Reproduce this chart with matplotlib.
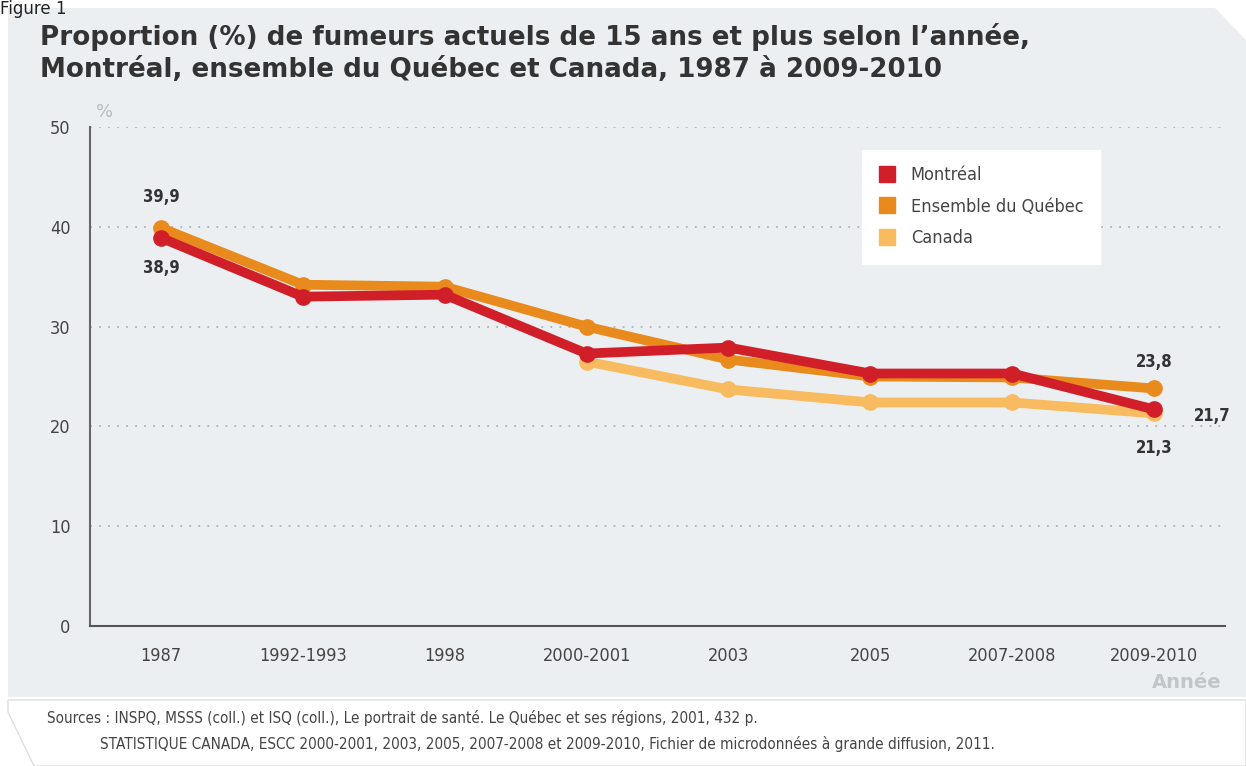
import numpy as np
import matplotlib.pyplot as plt
from matplotlib.patches import Polygon
from matplotlib.lines import Line2D

periodes = ["1987", "1992-1993", "1998", "2000-2001", "2003", "2005",
            "2007-2008", "2009-2010"]
montreal = [38.9, 33.0, 33.2, 27.3, 27.9, 25.3, 25.3, 21.7]
quebec = [39.9, 34.2, 34.0, 30.0, 26.7, 25.0, 24.9, 23.8]
canada = [None, None, None, 26.5, 23.7, 22.4, 22.4, 21.3]

c_mtl = "#d11f2a"
c_qc = "#e98a1c"
c_can = "#f9bb5f"
narrow = ["DejaVu Sans"]
cond = dict(family=narrow, stretch="condensed")


def main():
    fig = plt.figure(figsize=(12.46, 7.66), dpi=100)
    fig.patch.set_facecolor("white")

    # background panels (figure pixel coords converted to fractions)
    W, H = 1246, 766

    def fp(pts):
        return [(x / W, 1 - y / H) for x, y in pts]

    panel = Polygon(fp([(8, 8), (1215, 8), (1246, 40), (1246, 697), (8, 697)]),
                    closed=True, transform=fig.transFigure, facecolor="#eceff1",
                    edgecolor="none", zorder=0)
    fig.patches.append(panel)
    src_box = Polygon(fp([(8, 700), (1246, 700), (1246, 766), (34, 766), (8, 712)]),
                      closed=True, transform=fig.transFigure, facecolor="white",
                      edgecolor="#dcdfe2", lw=1, zorder=0)
    fig.patches.append(src_box)

    fig.text(0.0, 1.0, "Figure 1", fontsize=12, color="#222222",
             va="top", ha="left")
    fig.text(40 / W, 1 - 53 / H,
             "Proportion (%) de fumeurs actuels de 15 ans et plus selon l\u2019ann\u00e9e,\n"
             "Montr\u00e9al, ensemble du Qu\u00e9bec et Canada, 1987 \u00e0 2009-2010",
             fontsize=18.8, fontweight="bold", color="#333333", va="center",
             ha="left", linespacing=1.3)

    ax = fig.add_axes([90 / W, 1 - 626 / H, (1225 - 90) / W, (626 - 127) / H])
    ax.set_zorder(2)
    ax.set_facecolor("none")
    x = np.arange(len(periodes))

    def plot_series(vals, color, z):
        xs = [xi for xi, v in zip(x, vals) if v is not None]
        ys = [v for v in vals if v is not None]
        ax.plot(xs, ys, color=color, lw=7, marker="o", ms=11,
                solid_joinstyle="round", solid_capstyle="round", zorder=z)

    plot_series(canada, c_can, 3)
    plot_series(quebec, c_qc, 4)
    plot_series(montreal, c_mtl, 5)

    ax.set_xlim(-0.5, 7.5)
    ax.set_ylim(0, 50)
    ax.set_xticks(x)
    ax.set_xticklabels(periodes, fontsize=13, color="#444444", **cond)
    ax.set_yticks([0, 10, 20, 30, 40, 50])
    ax.set_yticklabels(["0", "10", "20", "30", "40", "50"], fontsize=13,
                       color="#444444", **cond)
    ax.tick_params(axis="x", length=0, pad=15)
    ax.tick_params(axis="y", length=0, pad=14)
    for yv in [10, 20, 30, 40, 50]:
        ax.axhline(yv, color="#aeb2b6", lw=1.3, ls=(0, (1, 4)), zorder=1)
    for s in ["top", "right"]:
        ax.spines[s].set_visible(False)
    ax.spines["left"].set_color("#666666")
    ax.spines["bottom"].set_color("#555555")
    ax.spines["left"].set_linewidth(1.5)
    ax.spines["bottom"].set_linewidth(1.5)

    ax.text(0.005, 1.03, "%", transform=ax.transAxes, fontsize=13,
            color="#b8bcc0", ha="left", va="center")
    fig.text(1222 / W, 1 - 683 / H, "Ann\u00e9e", fontsize=14, fontweight="bold",
             color="#c3c6c9", ha="right", va="center", zorder=5)

    lab = dict(fontsize=12, fontweight="bold", color="#333333", zorder=6, **cond)
    ax.annotate("39,9", (0, quebec[0]), xytext=(0, 22), textcoords="offset points",
                ha="center", va="center", **lab)
    ax.annotate("38,9", (0, montreal[0]), xytext=(0, -22), textcoords="offset points",
                ha="center", va="center", **lab)
    ax.annotate("23,8", (7, quebec[7]), xytext=(0, 19), textcoords="offset points",
                ha="center", va="center", **lab)
    ax.annotate("21,7", (7, montreal[7]), xytext=(42, -5), textcoords="offset points",
                ha="center", va="center", **lab)
    ax.annotate("21,3", (7, canada[7]), xytext=(0, -25), textcoords="offset points",
                ha="center", va="center", **lab)

    handles = [Line2D([], [], color=c, marker="s", ms=11, ls="none")
               for c in (c_mtl, c_qc, c_can)]
    leg = ax.legend(handles, ["Montr\u00e9al", "Ensemble du Qu\u00e9bec", "Canada"],
                    loc="upper left", bbox_to_anchor=((862 - 90) / (1225 - 90),
                                                      1 - (150 - 127) / (626 - 127)),
                    frameon=True, fancybox=False, framealpha=1,
                    prop={"family": narrow, "stretch": "condensed", "size": 13},
                    handlelength=1.0, handletextpad=0.8, borderpad=0.9,
                    labelspacing=0.75, borderaxespad=0)
    leg.get_frame().set_facecolor("white")
    leg.get_frame().set_edgecolor("white")
    for t in leg.get_texts():
        t.set_color("#444444")

    fig.text(47 / W, 1 - 718 / H,
             "Sources : INSPQ, MSSS (coll.) et ISQ (coll.), Le portrait de sant\u00e9. "
             "Le Qu\u00e9bec et ses r\u00e9gions, 2001, 432 p.",
             fontsize=11, color="#444444", va="center", ha="left", **cond)
    fig.text(100 / W, 1 - 744 / H,
             "STATISTIQUE CANADA, ESCC 2000-2001, 2003, 2005, 2007-2008 et 2009-2010, "
             "Fichier de microdonn\u00e9es \u00e0 grande diffusion, 2011.",
             fontsize=11, color="#444444", va="center", ha="left", **cond)

    fig.savefig("out.png", dpi=100, facecolor=fig.get_facecolor())


if __name__ == "__main__":
    main()
